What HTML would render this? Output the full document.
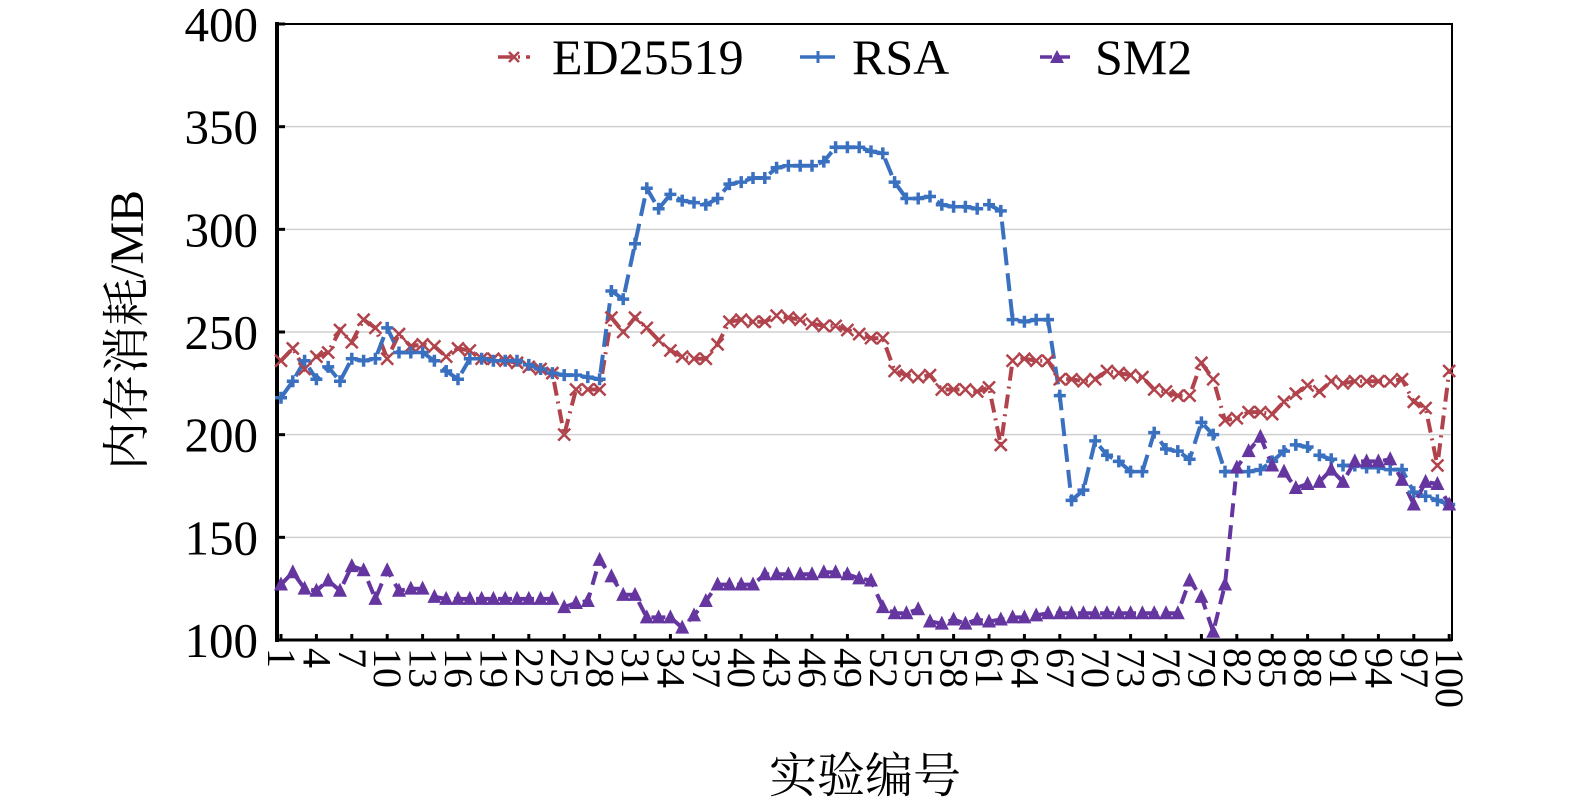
<!DOCTYPE html>
<html><head><meta charset="utf-8"><style>html,body{margin:0;padding:0;background:#fff}svg{display:block}</style></head><body>
<svg id="s" width="1575" height="802" xmlns="http://www.w3.org/2000/svg" font-family="'Liberation Serif','Noto Serif CJK SC',serif"></svg>
<script>
const ED=[236,242,232,238,240,251,245,256,252,237,249,243,244,243,238,242,241,237,237,236,235,233,232,230,200,222,222,222,257,250,257,252,246,241,238,237,237,244,255,256,255,255,258,257,256,254,253,253,251,249,247,247,231,229,228,229,222,222,222,221,223,195,236,237,236,236,227,227,226,227,231,230,229,228,222,221,219,219,235,227,207,208,211,211,210,216,220,224,221,226,225,226,226,226,226,227,216,213,185,209];
ED[99]=231;
const RSA=[218,226,236,227,233,226,237,236,237,252,240,240,240,236,231,227,237,237,236,236,236,234,232,230,229,229,228,227,270,266,293,320,310,317,314,313,312,315,322,323,325,325,330,331,331,331,333,340,340,340,338,337,323,315,315,316,312,311,311,310,312,309,256,255,256,256,219,168,173,197,190,187,182,182,201,193,192,188,206,200,182,182,182,183,187,192,195,194,190,188,185,185,184,184,183,183,172,170,168,166];
const SM=[127,133,125,124,129,124,136,134,120,134,124,125,125,121,120,120,120,120,120,120,120,120,120,120,116,118,119,139,131,122,122,111,111,111,106,112,119,127,127,127,127,132,132,132,132,132,133,133,132,130,129,116,113,113,115,109,108,110,108,110,109,110,111,111,112,113,113,113,113,113,113,113,113,113,113,113,113,129,121,104,127,184,192,199,185,182,174,176,177,183,177,187,187,187,188,178,166,177,176,166];
const X=i=>281+i*11.8, Y=v=>640-(v-100)*2.0533;
let h='';
[150,200,250,300,350].forEach(v=>h+=`<line x1="277" x2="1452" y1="${Y(v)}" y2="${Y(v)}" stroke="#d0d0d0" stroke-width="1.5"/>`);
h+=`<rect x="277" y="24" width="1175" height="616" fill="none" stroke="#000" stroke-width="2"/>`;
h+=`<line x1="277" y1="22" x2="277" y2="642" stroke="#000" stroke-width="4"/><line x1="275" y1="640" x2="1452" y2="640" stroke="#000" stroke-width="3"/>`;
[100,150,200,250,300,350,400].forEach(v=>{h+=`<line x1="277" x2="285" y1="${Y(v)}" y2="${Y(v)}" stroke="#000" stroke-width="3"/><text x="258" y="${Y(v)+17}" font-size="49" text-anchor="end">${v}</text>`});
for(let k=1;k<=100;k+=3){const x=X(k-1);h+=`<line x1="${x}" x2="${x}" y1="634" y2="640" stroke="#000" stroke-width="3"/><text transform="translate(${x-13},648) rotate(90)" font-size="40">${k}</text>`;}
h+=`<text transform="translate(143,330) rotate(-90)" font-size="48" text-anchor="middle">内存消耗/MB</text>`;
h+=`<text x="865" y="792" font-size="48" text-anchor="middle">实验编号</text>`;
function series(d,col,dash){return `<polyline fill="none" stroke="${col}" stroke-width="4" stroke-dasharray="${dash}" points="${d.map((v,i)=>X(i).toFixed(1)+','+Y(v).toFixed(1)).join(' ')}"/>`;}
h+=series(ED,'#b0434b','14 6 2 6');
h+=series(RSA,'#3a70c0','18 8');
h+=series(SM,'#6536a0','14 8');
ED.forEach((v,i)=>{const x=X(i),y=Y(v);h+=`<path d="M${x-6},${y-6}L${x+6},${y+6}M${x-6},${y+6}L${x+6},${y-6}" stroke="#b0434b" stroke-width="2.5"/>`});
RSA.forEach((v,i)=>{const x=X(i),y=Y(v);h+=`<path d="M${x-6},${y}H${x+6}M${x},${y-6}V${y+6}" stroke="#3a70c0" stroke-width="3.5"/>`});
SM.forEach((v,i)=>{const x=X(i),y=Y(v);h+=`<path d="M${x},${y-8}L${x+7},${y+6}L${x-7},${y+6}Z" fill="#6536a0"/>`});
h+=`<line x1="498" x2="530" y1="57" y2="57" stroke="#b0434b" stroke-width="3.5" stroke-dasharray="14 6 2 6"/><path d="M509,52L519,62M509,62L519,52" stroke="#b0434b" stroke-width="2.5"/><text x="552" y="74" font-size="50">ED25519</text>`;
h+=`<line x1="800" x2="835" y1="57" y2="57" stroke="#3a70c0" stroke-width="3.5"/><path d="M812,57H824M818,51V63" stroke="#3a70c0" stroke-width="3"/><text x="852" y="74" font-size="50">RSA</text>`;
h+=`<line x1="1040" x2="1076" y1="57" y2="57" stroke="#6536a0" stroke-width="3.5" stroke-dasharray="12 6"/><path d="M1057,50L1064,63L1050,63Z" fill="#6536a0"/><text x="1095" y="74" font-size="50">SM2</text>`;
document.getElementById('s').innerHTML=h;
</script>
</body></html>
